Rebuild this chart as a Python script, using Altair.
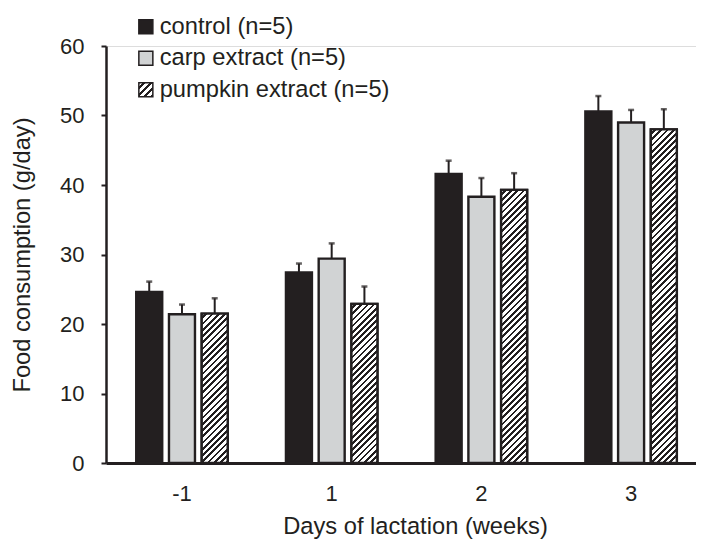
import math
import json
import altair as alt
import pandas as pd

# ---------------- data ----------------
weeks = ["-1", "1", "2", "3"]
series = ["control (n=5)", "carp extract (n=5)", "pumpkin extract (n=5)"]
control = [24.6, 27.4, 41.6, 50.6]
control_sd = [1.5, 1.3, 1.9, 2.2]
carp = [21.4, 29.4, 38.3, 49.0]
carp_sd = [1.4, 2.2, 2.7, 1.8]
pumpkin = [21.5, 22.9, 39.3, 48.0]
pumpkin_sd = [2.2, 2.5, 2.4, 2.9]
y_ticks = [0, 10, 20, 30, 40, 50, 60]

rows = []
for s, vals, sds in [(series[0], control, control_sd),
                     (series[1], carp, carp_sd),
                     (series[2], pumpkin, pumpkin_sd)]:
    for w, v, e in zip(weeks, vals, sds):
        rows.append({"week": w, "series": s, "value": v, "top": v + e})
df = pd.DataFrame(rows)

# ---------------- layout / style ----------------
W, H = 590, 417
PAD = {"left": 98, "top": 38, "right": 0, "bottom": 76}
FONT = "Liberation Sans"
INK = "#231f20"
GREY = "#d1d3d4"
FS = 22      # tick labels
FS_T = 23.7  # titles and legend

X_PI, X_PO, X_ALIGN = 0.389, 0.165, 0.612
O_PI = 0.206

step = W / (len(weeks) - X_PI + 2 * X_PO)
band = step * (1 - X_PI)
ostep = band / (len(series) - O_PI)
bar_w = ostep * (1 - O_PI)


def hatch(w, h, period=4.4, dark=0.44):
    """Diagonal '/' hatch as a hard-stop linear gradient in bbox units."""
    n = max(1, round((w + h) / math.sqrt(2) / period))
    stops = []
    for k in range(n):
        a = k / n
        b = (k + 1 - dark) / n
        c = (k + 1) / n
        stops += [
            {"offset": round(a, 5), "color": "#ffffff"},
            {"offset": round(b, 5), "color": "#ffffff"},
            {"offset": round(b, 5), "color": INK},
            {"offset": round(c, 5), "color": INK},
        ]
    d = w * w + h * h
    return {
        "gradient": "linear",
        "x1": 0, "y1": 0,
        "x2": round(w * (w + h) / d, 6), "y2": round(h * (w + h) / d, 6),
        "stops": stops,
    }


def js_obj(o):
    if isinstance(o, dict):
        return "{" + ",".join(f"{k}:{js_obj(v)}" for k, v in o.items()) + "}"
    if isinstance(o, list):
        return "[" + ",".join(js_obj(v) for v in o) + "]"
    if isinstance(o, str):
        return "'" + o + "'"
    return json.dumps(o)


legend_grad = hatch(14, 14, period=4.6, dark=0.45)
legend_fill_expr = (
    f"datum.value === '{series[0]}' ? '{INK}' : "
    f"datum.value === '{series[1]}' ? '{GREY}' : {js_obj(legend_grad)}"
)

x_enc = alt.X(
    "week:N",
    sort=weeks,
    scale=alt.Scale(paddingInner=X_PI, paddingOuter=X_PO, align=X_ALIGN),
    axis=alt.Axis(
        title="Days of lactation (weeks)",
        ticks=False,
        domainColor=INK, domainWidth=3,
        labelFont=FONT, labelFontSize=FS, labelColor=INK, labelPadding=20,
        labelAngle=0,
        titleFont=FONT, titleFontSize=FS_T, titleFontWeight="normal", titleColor=INK,
        titleBaseline="alphabetic", titleX=309, titleY=70,
    ),
)
xo_enc = alt.XOffset("series:N", sort=series,
                     scale=alt.Scale(paddingInner=O_PI, paddingOuter=0))
y_scale = alt.Scale(domain=[0, 60], nice=False)

bars = alt.Chart(df).mark_bar(stroke=INK, strokeWidth=2.4).encode(
    x=x_enc,
    xOffset=xo_enc,
    y=alt.Y(
        "value:Q",
        scale=y_scale,
        axis=alt.Axis(
            title="Food consumption (g/day)",
            values=y_ticks, grid=False,
            domainColor=INK, domainWidth=2.5,
            tickColor=INK, tickWidth=2, tickSize=5,
            labelFont=FONT, labelFontSize=FS, labelColor=INK, labelPadding=17,
            titleFont=FONT, titleFontSize=FS_T, titleFontWeight="normal", titleColor=INK,
            titleBaseline="alphabetic", titleAngle=270, titleX=-77, titleY=H / 2,
        ),
    ),
    color=alt.Color(
        "series:N",
        sort=series,
        scale=alt.Scale(range=[INK, GREY, "#ffffff"]),
        legend=None,
    ),
)

# legend-only layer (no rows drawn); its fill uses another field so that the
# legend symbols take their fill from symbolFillColor
legend_layer = alt.Chart(df).transform_filter("false").mark_point(filled=True).encode(
    x=x_enc, xOffset=xo_enc, y=alt.Y("value:Q", scale=y_scale),
    fill=alt.Fill("week:N", legend=None),
    shape=alt.Shape(
        "series:N", sort=series,
        scale=alt.Scale(domain=series, range=["square", "square", "square"]),
        legend=alt.Legend(
            title=None, orient="none", legendX=28, legendY=-31,
            symbolSize=196, symbolFillColor=alt.ExprRef(expr=legend_fill_expr),
            symbolStrokeColor=INK, symbolStrokeWidth=1.5, symbolOffset=0,
            symbolOpacity=1,
            labelFont=FONT, labelFontSize=FS_T, labelColor=INK, labelOffset=2,
            labelLimit=0, rowPadding=6.5, padding=0,
        ),
    ),
)

layers = []
pdf = df[df["series"] == series[2]]
for _, r in pdf.iterrows():
    h = r["value"] / 60 * H
    layers.append(
        alt.Chart(pdf[pdf["week"] == r["week"]])
        .mark_bar(fill=hatch(bar_w, h), stroke=INK, strokeWidth=2.4)
        .encode(x=x_enc, xOffset=xo_enc, y=alt.Y("value:Q", scale=y_scale))
    )

stems = alt.Chart(df).mark_rule(color=INK, strokeWidth=2).encode(
    x=x_enc, xOffset=xo_enc,
    y=alt.Y("value:Q", scale=y_scale), y2="top:Q",
)
caps = alt.Chart(df).mark_tick(color=INK, thickness=2.5, size=6, orient="horizontal").encode(
    x=x_enc, xOffset=xo_enc, y=alt.Y("top:Q", scale=y_scale),
)

chart = alt.layer(stems, caps, bars, *layers, legend_layer).properties(
    width=W, height=H,
    padding=PAD,
    autosize=alt.AutoSizeParams(type="none"),
).configure_view(stroke=None).configure(background="white")

chart.save("out.html", embed_options={"renderer": "svg", "actions": False})
